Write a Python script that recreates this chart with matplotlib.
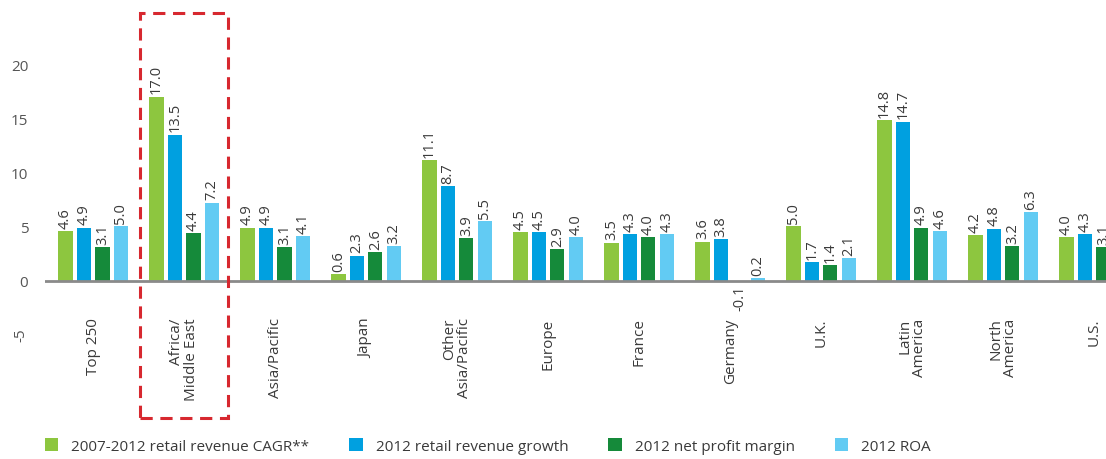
import numpy as np
import matplotlib.pyplot as plt
from matplotlib.patches import Rectangle

plt.rcParams['font.family'] = ['Open Sans', 'DejaVu Sans']
plt.rcParams['axes.unicode_minus'] = False

regions = ["Top 250", "Africa/\nMiddle East", "Asia/Pacific", "Japan",
           "Other\nAsia/Pacific", "Europe", "France", "Germany", "U.K.",
           "Latin\nAmerica", "North\nAmerica", "U.S."]
cagr = [4.6, 17.0, 4.9, 0.6, 11.1, 4.5, 3.5, 3.6, 5.0, 14.8, 4.2, 4.0]
growth = [4.9, 13.5, 4.9, 2.3, 8.7, 4.5, 4.3, 3.8, 1.7, 14.7, 4.8, 4.3]
margin = [3.1, 4.4, 3.1, 2.6, 3.9, 2.9, 4.0, -0.1, 1.4, 4.9, 3.2, 3.1]
roa = [5.0, 7.2, 4.1, 3.2, 5.5, 4.0, 4.3, 0.2, 2.1, 4.6, 6.3, np.nan]

series = [
    ("2007-2012 retail revenue CAGR**", cagr, "#8dc63f"),
    ("2012 retail revenue growth", growth, "#00a0e0"),
    ("2012 net profit margin", margin, "#158a3a"),
    ("2012 ROA", roa, "#62cbf3"),
]
text_col = "#3a3a3a"

fig = plt.figure(figsize=(11.06, 4.6), dpi=100)
ax = fig.add_axes([45 / 1106, 120 / 460, 1 - 45 / 1106, 330 / 460])

x = np.arange(len(regions))
step = 0.203
width = 0.155
for k, (name, vals, color) in enumerate(series):
    pos = x + (k - 1.5) * step
    ax.bar(pos, vals, width=width, color=color, label=name, zorder=2)
    for xp, v in zip(pos, vals):
        if np.isnan(v):
            continue
        if v >= 0:
            ax.text(xp, v + 0.3, f"{v:.1f}", rotation=90, ha="center",
                    va="bottom", fontsize=10.5, color=text_col)
        else:
            ax.text(xp, v - 0.3, f"{v:.1f}", rotation=90, ha="center",
                    va="top", fontsize=10.5, color=text_col)

# category names hang below the zero line
for xi, name in zip(x, regions):
    ax.text(xi, -3.4, name, rotation=90, ha="center", va="top",
            multialignment="right", fontsize=11, color=text_col,
            linespacing=1.0, clip_on=False)

ax.axhline(0, color="#8a8a8a", lw=2, zorder=3)
ax.set_xlim(-0.53, 11.13)
ax.set_ylim(-5.4, 25.1)
ax.set_xticks([])
ax.set_yticks([-5, 0, 5, 10, 15, 20])
ax.tick_params(axis="y", length=0, pad=12, labelsize=11, labelcolor="#555555")
ax.get_yticklabels()[0].set_rotation(90)
ax.get_yticklabels()[0].set_va("center")
for s in ax.spines.values():
    s.set_visible(False)

# highlight box round Africa/Middle East
box = Rectangle((0.516, -12.7), 0.968, 37.4, fill=False, ec="#d7282f",
                lw=2.2, ls=(0, (4, 2.5)), clip_on=False, zorder=4)
ax.add_patch(box)

fig.legend(loc="center left", bbox_to_anchor=(37 / 1106, 1 - 447 / 460),
           ncol=4, frameon=False, fontsize=11, borderpad=0,
           handlelength=0.9, handleheight=0.9, handletextpad=0.85,
           columnspacing=2.6, labelcolor=text_col)

fig.savefig("out.png", dpi=100)
